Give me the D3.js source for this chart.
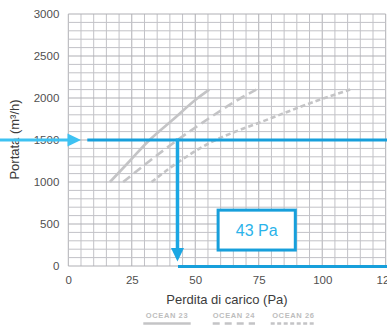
<!DOCTYPE html>
<html>
<head>
<meta charset="utf-8">
<script src="https://cdn.jsdelivr.net/npm/d3@7"></script>
<style>
  html, body { margin: 0; padding: 0; background: #fff; }
  svg { display: block; font-family: "Liberation Sans", Arial, Helvetica, sans-serif; }
</style>
</head>
<body>
<svg id="chart" width="387" height="325"></svg>
<script>
// Pressure drop (Pa) versus air flow (m³/h) for the OCEAN units
const flowPoints = [1000, 1250, 1500, 1750, 2000, 2100];
const ocean23 = [16.4, 24.2, 32, 41.5, 51, 55.5];
const ocean24 = [21.6, 32, 43, 55, 68, 74];
const ocean26 = [32.8, 44, 58, 79, 101, 111];
const seriesNames = ["OCEAN 23", "OCEAN 24", "OCEAN 26"];

// Worked example: reading at 1500 m³/h
const selectedFlow = 1500;
const selectedDrop = 43;

const xTicks = [0, 25, 50, 75, 100, 125];
const yTicks = [0, 500, 1000, 1500, 2000, 2500, 3000];

const svg = d3.select("#chart");
const plotLeft = 68.3, plotRight = 385.7, plotTop = 14, plotBottom = 266;

const x = d3.scaleLinear().domain([0, 125]).range([plotLeft, plotRight]);
const y = d3.scaleLinear().domain([0, 3000]).range([plotBottom, plotTop]);

const blue = "#179fdb";
const midBlue = "#1ba7e3";
const lightBlue = "#3ec2f2";
const curveGray = "#c4c4c6";

// grid
const grid = svg.append("g");
grid.selectAll("line.v").data(d3.range(0, 126, 5)).join("line")
  .attr("class", "v")
  .attr("x1", d => x(d)).attr("x2", d => x(d))
  .attr("y1", y(0)).attr("y2", y(3000))
  .attr("stroke", d => d % 25 === 0 ? "#afafb4" : "#c2c2c7")
  .attr("stroke-width", 1);
grid.selectAll("line.h").data(d3.range(0, 3001, 100)).join("line")
  .attr("class", "h")
  .attr("x1", x(0)).attr("x2", x(125))
  .attr("y1", d => y(d)).attr("y2", d => y(d))
  .attr("stroke", d => d % 500 === 0 ? "#afafb4" : "#c2c2c7")
  .attr("stroke-width", 1);

// axes (labels only)
const fmt = d3.format("d");
const xAxis = svg.append("g")
  .attr("transform", `translate(0,${plotBottom + 10})`)
  .call(d3.axisBottom(x).tickValues(xTicks).tickFormat(fmt).tickSize(0).tickPadding(0));
const yAxis = svg.append("g")
  .attr("transform", `translate(${plotLeft - 9},0)`)
  .call(d3.axisLeft(y).tickValues(yTicks).tickFormat(fmt).tickSize(0).tickPadding(0));
[xAxis, yAxis].forEach(a => {
  a.select(".domain").remove();
  a.selectAll("text")
    .attr("fill", "#505050")
    .style("font-size", "11.5px")
    .style("font-family", "'Liberation Sans', Arial, sans-serif");
});

// axis titles
svg.append("text")
  .attr("x", 227).attr("y", 303.5)
  .attr("text-anchor", "middle")
  .attr("fill", "#3c3c3c")
  .style("font-size", "13px")
  .text("Perdita di carico (Pa)");
svg.append("text")
  .attr("transform", "translate(18.5,139.5) rotate(-90)")
  .attr("text-anchor", "middle")
  .attr("fill", "#3c3c3c")
  .style("font-size", "13px")
  .text("Portata (m³/h)");

// performance curves
const dashes = ["none", "9,5", "5,3"];
const allSeries = [ocean23, ocean24, ocean26];
const line = d3.line()
  .x(d => x(d[0])).y(d => y(d[1]))
  .curve(d3.curveMonotoneY);
allSeries.forEach((s, i) => {
  svg.append("path")
    .datum(s.map((p, j) => [p, flowPoints[j]]))
    .attr("d", line)
    .attr("fill", "none")
    .attr("stroke", curveGray)
    .attr("stroke-width", 2.6)
    .attr("stroke-dasharray", dashes[i]);
});

// reading lines
const yr = y(selectedFlow), xr = x(selectedDrop);
svg.append("line")
  .attr("x1", 87.3).attr("x2", 387)
  .attr("y1", yr).attr("y2", yr)
  .attr("stroke", blue).attr("stroke-width", 3);
svg.append("line")
  .attr("x1", xr).attr("x2", xr)
  .attr("y1", yr - 1.5).attr("y2", y(0) - 16)
  .attr("stroke", midBlue).attr("stroke-width", 3.5);
svg.append("path")
  .attr("d", `M${xr - 6.5},${y(0) - 18} L${xr + 6.5},${y(0) - 18} L${xr},${y(0) - 4.5} Z`)
  .attr("fill", midBlue);
svg.append("line")
  .attr("x1", xr + 0.5).attr("x2", 387)
  .attr("y1", y(0) + 0.5).attr("y2", y(0) + 0.5)
  .attr("stroke", blue).attr("stroke-width", 3);

// incoming arrow on the flow value
svg.append("line")
  .attr("x1", 0).attr("x2", 70)
  .attr("y1", yr).attr("y2", yr)
  .attr("stroke", lightBlue).attr("stroke-width", 3);
svg.append("path")
  .attr("d", `M67.5,${yr - 6.5} L81,${yr} L67.5,${yr + 6.5} Z`)
  .attr("fill", lightBlue);

// value box
const boxX0 = x(59), boxX1 = x(89.4), boxY0 = y(665), boxY1 = y(190);
svg.append("rect")
  .attr("x", boxX0).attr("y", boxY0)
  .attr("width", boxX1 - boxX0).attr("height", boxY1 - boxY0)
  .attr("fill", "#fff")
  .attr("stroke", blue).attr("stroke-width", 3);
svg.append("text")
  .attr("x", (boxX0 + boxX1) / 2).attr("y", (boxY0 + boxY1) / 2 + 5.5)
  .attr("text-anchor", "middle")
  .attr("fill", "#2ab3ea")
  .style("font-size", "16px")
  .text(`${selectedDrop} Pa`);

// legend
const legendX = [143.3, 212.7, 270.7];
const legendW = [47.4, 42.3, 45.3];
seriesNames.forEach((name, i) => {
  svg.append("text")
    .attr("x", legendX[i] + legendW[i] / 2).attr("y", 318)
    .attr("text-anchor", "middle")
    .attr("fill", "#bdbdbd")
    .style("font-size", "7.5px")
    .style("font-weight", "bold")
    .style("letter-spacing", "0.6px")
    .text(name);
  svg.append("line")
    .attr("x1", legendX[i]).attr("x2", legendX[i] + legendW[i])
    .attr("y1", 323.5).attr("y2", 323.5)
    .attr("stroke", curveGray).attr("stroke-width", 2.4)
    .attr("stroke-dasharray", i === 0 ? "none" : (i === 1 ? "7,5" : "4,2.5"));
});
</script>
</body>
</html>
